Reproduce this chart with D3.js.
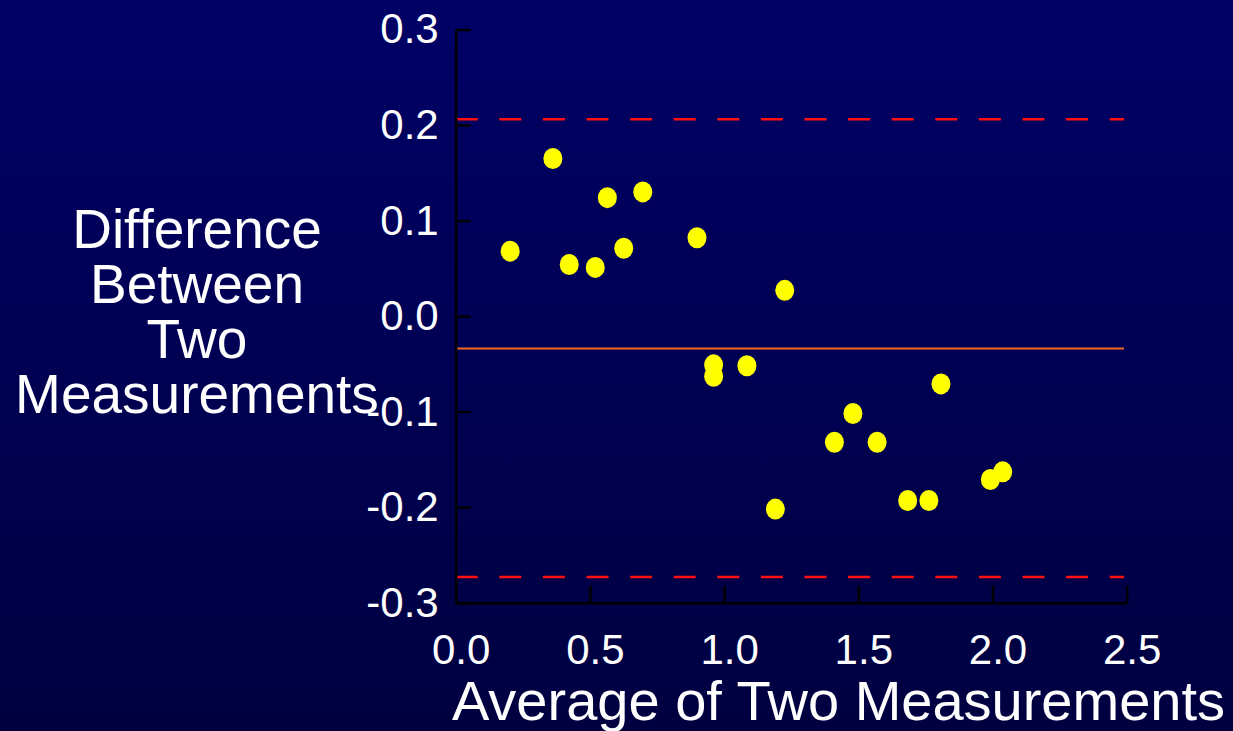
<!DOCTYPE html>
<html>
<head>
<meta charset="utf-8">
<script src="https://cdn.jsdelivr.net/npm/d3@7"></script>
<style>
  html, body { margin: 0; padding: 0; background: #000050; }
  svg { display: block; }
  .tickText { font-family: "Liberation Sans", Arial, Helvetica, sans-serif; fill: #fff; }
</style>
</head>
<body>
<svg id="chart" width="1233" height="731"></svg>
<script>
// Bland-Altman style: average vs difference
const avgValues = [0.203, 0.362, 0.423, 0.520, 0.565, 0.626, 0.697, 0.899, 0.961, 0.961, 1.085,
  1.191, 1.226, 1.411, 1.480, 1.570, 1.684, 1.763, 1.808, 1.992, 2.038];
const diffValues = [0.068, 0.165, 0.054, 0.051, 0.124, 0.071, 0.130, 0.082, -0.051, -0.063, -0.052,
  -0.202, 0.027, -0.132, -0.102, -0.132, -0.193, -0.193, -0.071, -0.171, -0.163];
const meanDiff = -0.034;
const limits = [0.206, -0.273];
const xTicks = [0, 0.5, 1, 1.5, 2, 2.5];
const yTicks = [0.3, 0.2, 0.1, 0, -0.1, -0.2, -0.3];
const yTitle = ['Difference', 'Between', 'Two', 'Measurements'];
const xTitle = 'Average of Two Measurements';

const width = 1233;
const height = 731;
const font = '"Liberation Sans", Arial, Helvetica, sans-serif';
const fmt = (d) => d3.format('.1f')(d).replace('−', '-');

const svg = d3.select('#chart');

const defs = svg.append('defs');
const grad = defs.append('linearGradient')
  .attr('id', 'bg')
  .attr('x1', 0).attr('y1', 0).attr('x2', 0).attr('y2', 1);
grad.append('stop').attr('offset', '0%').attr('stop-color', '#000066');
grad.append('stop').attr('offset', '100%').attr('stop-color', '#000040');

svg.append('rect')
  .attr('width', width)
  .attr('height', height)
  .attr('fill', 'url(#bg)');

const xscale = d3.scaleLinear()
  .domain([0, 2.5])
  .range([455.7, 1126.7]);

const yscale = d3.scaleLinear()
  .domain([-0.3, 0.3])
  .range([602.7, 29.5]);

// reference lines
svg.append('g')
  .selectAll('line')
  .data(limits)
  .enter()
  .append('line')
  .attr('x1', xscale(0))
  .attr('x2', xscale(2.49))
  .attr('y1', (d) => yscale(d))
  .attr('y2', (d) => yscale(d))
  .attr('stroke', '#ff1010')
  .attr('stroke-width', 2.5)
  .attr('stroke-dasharray', '22,21.6');

svg.append('line')
  .attr('x1', xscale(0))
  .attr('x2', xscale(2.49))
  .attr('y1', yscale(meanDiff))
  .attr('y2', yscale(meanDiff))
  .attr('stroke', '#ef6a1e')
  .attr('stroke-width', 2);

// axes
const leftAxis = d3.axisLeft(yscale)
  .tickValues(yTicks)
  .tickFormat(fmt)
  .tickSizeInner(-15)
  .tickSizeOuter(0)
  .tickPadding(17);

const gy = svg.append('g')
  .attr('transform', `translate(${xscale(0)}, 0)`)
  .call(leftAxis);

const bottomAxis = d3.axisBottom(xscale)
  .tickValues(xTicks)
  .tickFormat(fmt)
  .tickSizeInner(-17)
  .tickSizeOuter(0)
  .tickPadding(31);

const gx = svg.append('g')
  .attr('transform', `translate(0, ${yscale(-0.3)})`)
  .call(bottomAxis);

[gx, gy].forEach((g) => {
  g.select('.domain').attr('stroke', '#000').attr('stroke-width', 2.5);
  g.selectAll('.tick line').attr('stroke', '#000').attr('stroke-width', 2.5);
  g.selectAll('.tick text')
    .attr('fill', '#fff')
    .style('font-family', font)
    .style('font-size', '42px');
});
gx.selectAll('.tick text').attr('dx', 5);

// points
svg.append('g')
  .selectAll('ellipse')
  .data(avgValues)
  .enter()
  .append('ellipse')
  .attr('cx', (d) => xscale(d))
  .attr('cy', (d, i) => yscale(diffValues[i]))
  .attr('rx', 9.5)
  .attr('ry', 10.5)
  .attr('fill', '#ffff00');

// titles
svg.append('g')
  .selectAll('text')
  .data(yTitle)
  .enter()
  .append('text')
  .text((d) => d)
  .attr('x', 197)
  .attr('y', (d, i) => 248 + i * 55)
  .attr('text-anchor', 'middle')
  .attr('class', 'tickText')
  .style('font-size', '55px');

svg.append('text')
  .text(xTitle)
  .attr('x', 452)
  .attr('y', 720)
  .attr('class', 'tickText')
  .style('font-size', '56px');
</script>
</body>
</html>
